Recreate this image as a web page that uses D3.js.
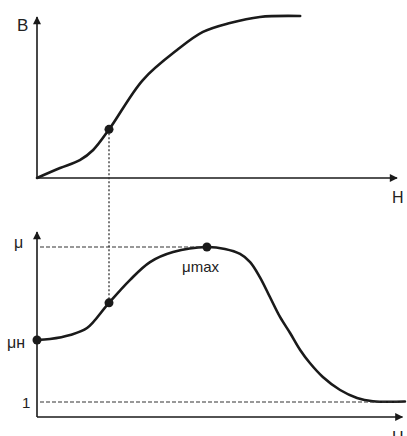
<!DOCTYPE html>
<html><head><meta charset="utf-8">
<script src="https://cdn.jsdelivr.net/npm/d3@7"></script>
<style>body{margin:0;background:#fff}svg{display:block}text{font-family:"Liberation Sans",Arial,sans-serif;fill:#222}</style>
</head><body><svg id="c" width="407" height="436"></svg>
<script>
// Magnetization curve B(H)
const hB = [0, 0.64, 1.19, 1.56, 2.03, 2.94, 3.89, 4.61, 5.36, 6.19, 7.31];
const bVal = [0, 0.061, 0.11, 0.172, 0.307, 0.601, 0.785, 0.896, 0.951, 0.988, 0.994];
// Permeability curve mu(H)
const hMu = [0, 0.36, 0.92, 1.39, 1.97, 2.58, 3.14, 3.78, 4.72, 5.22, 5.64, 5.92, 6.19, 6.47, 6.75, 7.03, 7.31, 7.58, 7.94, 8.42, 8.89, 9.33, 10.22];
const muVal = [5.13, 5.2, 5.47, 5.93, 7.53, 9.13, 10.33, 11.0, 11.33, 11.2, 10.87, 10.33, 9.33, 8.0, 6.67, 5.6, 4.47, 3.6, 2.67, 1.8, 1.27, 1.05, 1.03];
const markH = 2.0;       // H at the marked working point
const muInit = 5.13;     // initial permeability
const muMax = 11.33; const hMax = 4.72;
const muOne = 1;

const svg = d3.select("#c");
const x = d3.scaleLinear().domain([0, 10]).range([37, 397]);
const yB = d3.scaleLinear().domain([0, 1]).range([178, 15]);
const yM = d3.scaleLinear().domain([0, 12]).range([417, 237]);

const ink = "#1a1a1a";
svg.append("defs").append("marker").attr("id","ar").attr("viewBox","0 0 10 10")
  .attr("refX",9).attr("refY",5).attr("markerWidth",10).attr("markerHeight",8)
  .attr("markerUnits","userSpaceOnUse").attr("orient","auto")
  .append("path").attr("d","M0,0L10,5L0,10Z").attr("fill",ink);

function axisLine(x1,y1,x2,y2){
  svg.append("line").attr("x1",x1).attr("y1",y1).attr("x2",x2).attr("y2",y2)
    .attr("stroke",ink).attr("stroke-width",1.6).attr("marker-end","url(#ar)");
}
axisLine(x(0), yB(0), x(0), 17);
axisLine(x(0), yB(0), x(10), yB(0));
axisLine(x(0), yM(0), x(0), 232);
axisLine(x(0), yM(0), x(10.15), yM(0));

const lineB = d3.line().x((d,i)=>x(hB[i])).y((d,i)=>yB(bVal[i])).curve(d3.curveCatmullRom.alpha(0.5));
svg.append("path").attr("d", lineB(hB)).attr("fill","none").attr("stroke",ink).attr("stroke-width",2.6).attr("stroke-linecap","round");
const lineM = d3.line().x((d,i)=>x(hMu[i])).y((d,i)=>yM(muVal[i])).curve(d3.curveCatmullRom.alpha(0.5));
svg.append("path").attr("d", lineM(hMu)).attr("fill","none").attr("stroke",ink).attr("stroke-width",2.6).attr("stroke-linecap","round");

function interp(xs, ys, v){ for(let i=1;i<xs.length;i++){ if(v<=xs[i]){ const t=(v-xs[i-1])/(xs[i]-xs[i-1]); return ys[i-1]+t*(ys[i]-ys[i-1]); } } return ys[ys.length-1]; }
const bMark = interp(hB, bVal, markH);
const muMark = interp(hMu, muVal, markH);

svg.append("line").attr("x1",x(markH)).attr("x2",x(markH)).attr("y1",yB(bMark)).attr("y2",yM(muMark))
  .attr("stroke","#333").attr("stroke-width",1.3).attr("stroke-dasharray","2,2");
svg.append("line").attr("x1",x(0)+3).attr("x2",x(hMax)).attr("y1",yM(muMax)).attr("y2",yM(muMax))
  .attr("stroke","#333").attr("stroke-width",1.1).attr("stroke-dasharray","4,2");
svg.append("line").attr("x1",x(0)+3).attr("x2",x(10.15)).attr("y1",yM(muOne)).attr("y2",yM(muOne))
  .attr("stroke","#333").attr("stroke-width",1.1).attr("stroke-dasharray","4,2");

[[x(markH), yB(bMark)], [x(markH), yM(muMark)], [x(0), yM(muInit)], [x(hMax), yM(muMax)]].forEach(p=>{
  svg.append("circle").attr("cx",p[0]).attr("cy",p[1]).attr("r",4.5).attr("fill",ink);
});

const t = (s, px, py, fs) => svg.append("text").attr("x",px).attr("y",py).attr("font-size",fs||15).text(s);
t("В", 17, 31, 17);
t("Н", 392, 203, 16);
t("μ", 14, 248, 16);
t("μн", 7, 348, 16);
t("1", 22, 408, 15);
t("μmax", 182, 272, 15);
t("Н", 392, 443, 16);
</script></body></html>
